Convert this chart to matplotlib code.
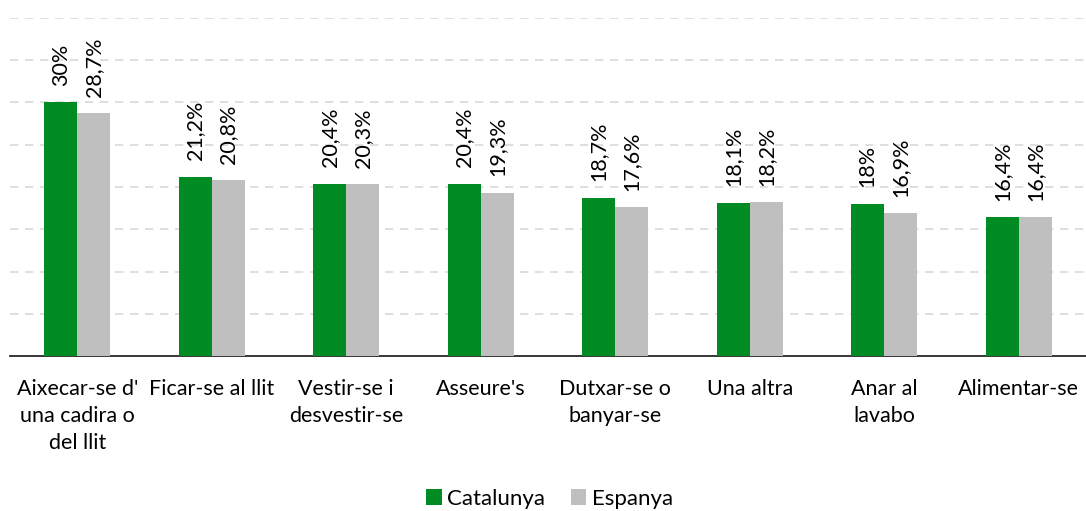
import numpy as np
import matplotlib.pyplot as plt

plt.rcParams['font.family'] = ['Lato', 'DejaVu Sans']

categories = ["Aixecar-se d'\nuna cadira o\ndel llit", "Ficar-se al llit", "Vestir-se i\ndesvestir-se",
              "Asseure's", "Dutxar-se o\nbanyar-se", "Una altra", "Anar al\nlavabo", "Alimentar-se"]
catalunya = [30, 21.2, 20.4, 20.4, 18.7, 18.1, 18, 16.4]
espanya = [28.7, 20.8, 20.3, 19.3, 17.6, 18.2, 16.9, 16.4]

def fmt(v):
    s = f'{v:g}'.replace('.', ',')
    return s + '%'

fig = plt.figure(figsize=(10.86, 5.11), dpi=100)
ax = fig.add_axes([10/1086, 1 - 356/511, 1076/1086, (356 - 18)/511])

x = np.arange(len(categories))
w = 0.245
b1 = ax.bar(x - w/2, catalunya, w, color='#008C23', label='Catalunya', zorder=3)
b2 = ax.bar(x + w/2, espanya, w, color='#BFBFBF', label='Espanya', zorder=3)

for bars, vals in [(b1, catalunya), (b2, espanya)]:
    for r, v in zip(bars, vals):
        ax.annotate(fmt(v), (r.get_x() + r.get_width()/2, v), xytext=(0, 12),
                    textcoords='offset points', rotation=90, ha='center', va='bottom',
                    fontsize=15.5, color='#000000')

ax.set_xlim(-0.5, len(categories) - 0.5)
ax.set_ylim(0, 40)
ax.set_yticks(np.arange(5, 41, 5))
ax.yaxis.grid(True, linestyle=(0, (5, 4)), color='#D9D9D9', linewidth=1.2, zorder=0)
ax.tick_params(axis='y', left=False, labelleft=False)
ax.tick_params(axis='x', bottom=False, labelsize=15.5, pad=13)
ax.set_xticks(x)
ax.set_xticklabels(categories, linespacing=1.45)
for s in ['top', 'right', 'left']:
    ax.spines[s].set_visible(False)
ax.spines['bottom'].set_color('#262626')
ax.spines['bottom'].set_linewidth(1.3)

fig.legend(loc='center', bbox_to_anchor=(0.506, 1 - 499/511), ncol=2, frameon=False,
           fontsize=16, handlelength=0.7, handleheight=0.7, handletextpad=0.25, columnspacing=1.15)

fig.savefig('out.png', dpi=100)
